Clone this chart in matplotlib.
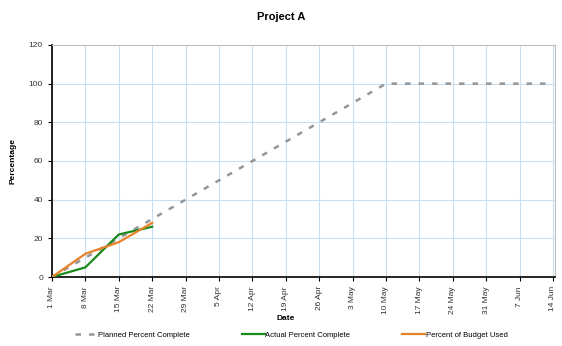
import matplotlib
matplotlib.use("Agg")
import matplotlib.pyplot as plt
import matplotlib.dates as mdates
import numpy as np
import datetime as dt

plt.rcParams['font.family'] = ['Liberation Sans', 'DejaVu Sans']

planned_dates = ["2010-03-01", "2010-03-08", "2010-03-15", "2010-03-22", "2010-03-29",
                 "2010-04-05", "2010-04-12", "2010-04-19", "2010-04-26", "2010-05-03",
                 "2010-05-10", "2010-05-17", "2010-05-24", "2010-05-31", "2010-06-07",
                 "2010-06-14"]
planned_values = [0, 10, 20, 30, 40, 50, 60, 70, 80, 90, 100, 100, 100, 100, 100, 100]

actual_dates = ["2010-03-01", "2010-03-08", "2010-03-15", "2010-03-22"]
actual_values = [0, 5, 22, 26]

budget_dates = ["2010-03-01", "2010-03-08", "2010-03-15", "2010-03-22"]
budget_values = [0, 12, 18, 28]

tick_dates = ["2010-03-01", "2010-03-08", "2010-03-15", "2010-03-22", "2010-03-29",
              "2010-04-05", "2010-04-12", "2010-04-19", "2010-04-26", "2010-05-03",
              "2010-05-10", "2010-05-17", "2010-05-24", "2010-05-31", "2010-06-07",
              "2010-06-14"]
tick_labels = ["1 Mar", "8 Mar", "15 Mar", "22 Mar", "29 Mar", "5 Apr", "12 Apr", "19 Apr",
               "26 Apr", "3 May", "10 May", "17 May", "24 May", "31 May", "7 Jun", "14 Jun"]

def d(s):
    return dt.datetime.strptime(s, "%Y-%m-%d")

fig = plt.figure(figsize=(5.62, 3.46), dpi=100)
ax = fig.add_axes([0.0925, 0.1994, 0.895, 0.6706])

ax.plot([d(s) for s in planned_dates], planned_values, color='#959595', lw=1.8,
        linestyle=(0, (2.2, 3.2)), label='Planned Percent Complete', zorder=3)
ax.plot([d(s) for s in actual_dates], actual_values, color='#1a8a1a', lw=1.6,
        label='Actual Percent Complete', zorder=4)
ax.plot([d(s) for s in budget_dates], budget_values, color='#e8822a', lw=1.6,
        label='Percent of Budget Used', zorder=5)

ax.set_xlim(d("2010-03-01"), d("2010-06-14") + dt.timedelta(hours=10))
ax.set_ylim(0, 120)
ax.set_yticks(np.arange(0, 121, 20))
ax.set_xticks([mdates.date2num(d(s)) for s in tick_dates])
ax.set_xticklabels(tick_labels, rotation=90, fontsize=6, color='#333333')
ax.tick_params(axis='y', labelsize=6, labelcolor='#333333', length=3)
ax.tick_params(axis='x', length=3)
ax.grid(True, color='#c9dff0', lw=0.8)
ax.set_axisbelow(True)
for s in ['top', 'right']:
    ax.spines[s].set_color('#c0c0c0')
ax.spines['left'].set_lw(1.2)
ax.spines['bottom'].set_lw(1.2)

ax.set_ylabel('Percentage', fontsize=6, fontweight='bold')
ax.yaxis.set_label_coords((17 - 52) / 503, 0.5)
ax.set_xlabel('Date', fontsize=6, fontweight='bold')
ax.xaxis.set_label_coords((286 - 52) / 503, (277 - 315) / 232)
fig.suptitle('Project A', fontsize=8, fontweight='bold', y=0.965)

fig.legend(loc='center left', bbox_to_anchor=(75 / 562, 0.032), ncol=3, frameon=False,
           fontsize=5.5, handlelength=3.0, handletextpad=0.05, columnspacing=6.8,
           borderpad=0, borderaxespad=0)

fig.savefig('out.png', dpi=100)
